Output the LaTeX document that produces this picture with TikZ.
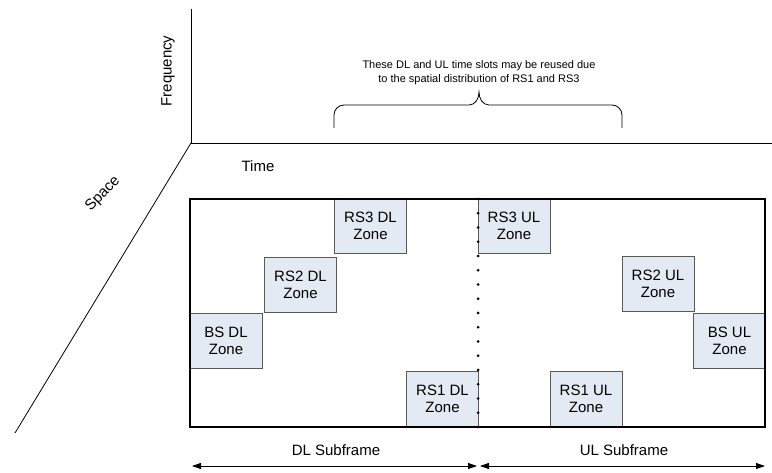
\documentclass[tikz,border=0pt]{standalone}
\usepackage{fontspec}
\setmainfont{Liberation Sans}
\usepackage{tikz}
\usetikzlibrary{arrows.meta,positioning,calc}
\definecolor{zonefill}{HTML}{E4EAF4}
\definecolor{zoneline}{HTML}{595959}
\tikzset{
  zone/.style={rectangle, draw=zoneline, line width=0.8pt, fill=zonefill, minimum width=72pt, minimum height=55pt, align=center, inner sep=0pt, font=\fontsize{15}{17}\selectfont},
  axislabel/.style={font=\fontsize{15}{17}\selectfont, inner sep=0pt},
  note/.style={align=center, font=\fontsize{11}{14}\selectfont, inner sep=0pt},
  span/.style={{Triangle[length=9pt,width=6pt]}-{Triangle[length=9pt,width=6pt]}, line width=0.8pt},
}

\begin{document}
\begin{tikzpicture}[x=1pt, y=-1pt]
  \useasboundingbox (0,0) rectangle (772,473);
  % axes
  \coordinate (o) at (191,143);
  \coordinate (ftop) at (191,9);
  \coordinate (tend) at (772,143);
  \coordinate (send) at (15,433);
  \draw[line width=0.8pt] (ftop) -- (o) -- (tend);
  \draw[line width=0.8pt] (o) -- (send);
  \node[axislabel, rotate=90] (freq) at (168,71) {Frequency};
  \node[axislabel] (time) at (258,166) {Time};
  \node[axislabel, rotate=46] (space) at (103,194) {Space};
  % brace and note
  \node[note] (reuse) at (479,73) {These DL and UL time slots may be reused due\\to the spatial distribution of RS1 and RS3};
  \draw[line width=0.8pt] (334,128) -- (334,115) to[out=90,in=180] (344,105) -- (469,105)
    to[out=0,in=-90] (479,92) to[out=-90,in=180] (489,105) -- (612,105)
    to[out=0,in=90] (622,115) -- (622,128);
  % DL zones
  \node[zone] (rs3dl) at (370.5,226) {RS3 DL\\Zone};
  \node[zone] (rs2dl) at (300.5,285) {RS2 DL\\Zone};
  \node[zone] (bsdl) at (226,340.5) {BS DL\\Zone};
  \node[zone] (rs1dl) at (442.5,399) {RS1 DL\\Zone};
  % UL zones
  \node[zone] (rs3ul) at (514,226) {RS3 UL\\Zone};
  \node[zone] (rs2ul) at (658,283.5) {RS2 UL\\Zone};
  \node[zone] (bsul) at (729.5,340.5) {BS UL\\Zone};
  \node[zone] (rs1ul) at (586,399) {RS1 UL\\Zone};
  % frame
  \draw[line width=2pt] (190,199) rectangle (765,427);
  % DL/UL switch point
  \foreach \i in {0,...,16}
    \fill (478,199+14.25*\i) circle (1.5pt);
  % subframes
  \coordinate (dlstart) at (192,466);
  \coordinate (dlend) at (477,466);
  \coordinate (ulstart) at (480,466);
  \coordinate (ulend) at (765,466);
  \draw[span] (dlstart) -- (dlend);
  \draw[span] (ulstart) -- (ulend);
  \node[axislabel] (dlsub) at (336,450) {DL Subframe};
  \node[axislabel] (ulsub) at (624,450) {UL Subframe};
\end{tikzpicture}
\end{document}
